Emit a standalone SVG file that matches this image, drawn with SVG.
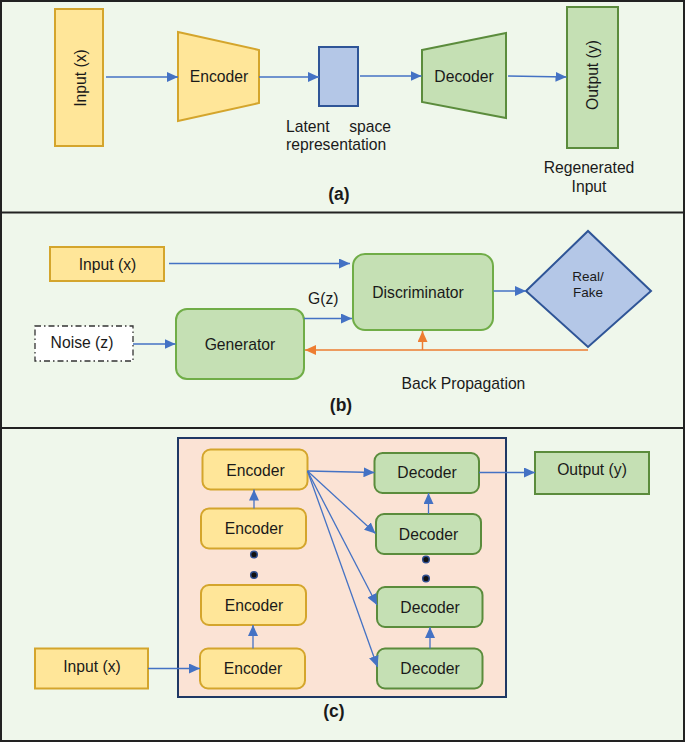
<svg xmlns="http://www.w3.org/2000/svg" width="685" height="742" viewBox="0 0 685 742">
<defs>
<marker id="ab" markerUnits="userSpaceOnUse" markerWidth="12" markerHeight="10" refX="11" refY="5" orient="auto"><path d="M0,0 L11,5 L0,10 z" fill="#4472c4"/></marker>
<marker id="ao" markerUnits="userSpaceOnUse" markerWidth="12" markerHeight="10" refX="11" refY="5" orient="auto"><path d="M0,0 L11,5 L0,10 z" fill="#ed7d31"/></marker>
<style>
text{font-family:"Liberation Sans",Arial,sans-serif;font-size:15.7px;fill:#1a1a1a}
.m{text-anchor:middle}
.b{font-weight:bold;font-size:17.5px}
.sm{font-size:13.5px}
.y{fill:#ffe699;stroke:#d4a52c;stroke-width:2}
.g{fill:#c5e0b4;stroke:#5b8c3c;stroke-width:2}
.g2{fill:#c5e0b4;stroke:#70ad47;stroke-width:2}
.bl{fill:#b4c7e7;stroke:#2f5597;stroke-width:2}
.c{fill:none;stroke:#4472c4;stroke-width:1.3;marker-end:url(#ab)}
.o{fill:none;stroke:#ed7d31;stroke-width:1.5}
.sep{stroke:#222;stroke-width:2}
.dot{fill:#111;stroke:#2f4f8f;stroke-width:1.5}
</style>
</defs>
<rect x="1" y="1" width="683" height="740" fill="#eff7eb" stroke="#222" stroke-width="2"/>
<line class="sep" x1="1" y1="212.5" x2="684" y2="212.5"/>
<line class="sep" x1="1" y1="428" x2="684" y2="428"/>

<!-- Panel (a) -->
<g id="a-input"><rect class="y" x="55" y="9" width="48" height="137"/><text class="m" transform="translate(86,78) rotate(-90)">Input (x)</text></g>
<g id="a-encoder"><polygon class="y" points="178,32 259,50 259,103 178,121"/><text class="m" x="219" y="81.5">Encoder</text></g>
<g id="a-latent"><rect class="bl" x="319" y="47" width="39" height="59"/><text x="286" y="131.5">Latent</text><text x="391" y="131.5" text-anchor="end">space</text><text x="286" y="150">representation</text></g>
<g id="a-decoder"><polygon class="g" points="422,50 506,33 506,118 422,102"/><text class="m" x="464" y="81.5">Decoder</text></g>
<g id="a-output"><rect class="g" x="567" y="7" width="51" height="141"/><text class="m" transform="translate(598,75) rotate(-90)">Output (y)</text><text class="m" x="589" y="172.5">Regenerated</text><text class="m" x="589" y="191.5">Input</text></g>
<text class="m b" x="339" y="200">(a)</text>

<!-- Panel (b) -->
<g id="b-input"><rect class="y" x="50" y="247" width="114" height="34"/><text class="m" x="107.5" y="270">Input (x)</text></g>
<g id="b-noise"><rect x="35" y="326" width="98" height="35" fill="#fff" stroke="#333" stroke-width="1.3" stroke-dasharray="6 3 1.5 3"/><text class="m" x="82" y="348">Noise (z)</text></g>
<g id="b-generator"><rect class="g2" x="176" y="309" width="128" height="70" rx="11"/><text class="m" x="240" y="349.5">Generator</text></g>
<g id="b-discriminator"><rect class="g2" x="353" y="254" width="140" height="76" rx="12"/><text class="m" x="418" y="298">Discriminator</text></g>
<g id="b-realfake"><polygon class="bl" points="526,291 588,231 651,291 588,347"/><text class="m sm" x="588" y="280.5">Real/</text><text class="m sm" x="588" y="297.3">Fake</text></g>
<text x="308" y="303.5">G(z)</text>
<text x="401.5" y="388.5">Back Propagation</text>
<text class="m b" x="341" y="411">(b)</text>

<!-- Panel (c) -->
<rect id="c-frame" x="178" y="438" width="328" height="259" fill="#fbe3d5" stroke="#1f3864" stroke-width="2"/>
<g id="c-input"><rect class="y" x="35" y="648.5" width="113" height="40"/><text class="m" x="92" y="672">Input (x)</text></g>
<g id="c-enc1"><rect class="y" x="202.5" y="449.5" width="105" height="40" rx="8"/><text class="m" x="255.5" y="476">Encoder</text></g>
<g id="c-enc2"><rect class="y" x="201" y="508.5" width="105" height="40" rx="8"/><text class="m" x="254" y="534">Encoder</text></g>
<g id="c-enc3"><rect class="y" x="201" y="585" width="105" height="40" rx="8"/><text class="m" x="254" y="610.7">Encoder</text></g>
<g id="c-enc4"><rect class="y" x="200" y="648.5" width="105" height="40" rx="8"/><text class="m" x="253" y="674">Encoder</text></g>
<g id="c-dec1"><rect class="g" x="374.5" y="453" width="104.5" height="40" rx="8"/><text class="m" x="427" y="478.4">Decoder</text></g>
<g id="c-dec2"><rect class="g" x="376" y="514" width="105" height="40" rx="8"/><text class="m" x="428.5" y="539.7">Decoder</text></g>
<g id="c-dec3"><rect class="g" x="377" y="587" width="105.5" height="40" rx="8"/><text class="m" x="430" y="613">Decoder</text></g>
<g id="c-dec4"><rect class="g" x="377" y="648.5" width="105.5" height="40" rx="8"/><text class="m" x="430" y="674">Decoder</text></g>
<g id="c-output"><rect class="g" x="535" y="452" width="114" height="42"/><text class="m" x="592" y="475">Output (y)</text></g>
<g id="c-dots">
<circle class="dot" cx="254" cy="554.5" r="3.3"/><circle class="dot" cx="254" cy="575" r="3.3"/>
<circle class="dot" cx="426" cy="559.5" r="3.3"/><circle class="dot" cx="426" cy="578.5" r="3.3"/>
</g>
<text class="m b" x="334" y="717">(c)</text>

<!-- Connectors -->
<g id="connectors">
<line class="c" x1="106" y1="77" x2="178" y2="77"/>
<line class="c" x1="259" y1="77" x2="319" y2="77"/>
<line class="c" x1="360" y1="76" x2="421.5" y2="76"/>
<line class="c" x1="508" y1="76" x2="566.5" y2="77"/>

<line class="c" x1="169" y1="263.5" x2="350" y2="263.5"/>
<line class="c" x1="133" y1="344" x2="175.5" y2="344"/>
<line class="c" x1="304" y1="318.5" x2="352" y2="318.5"/>
<line class="c" x1="493.5" y1="291" x2="526" y2="291"/>
<polyline class="o" points="588,350 305,350" marker-end="url(#ao)"/>
<line class="o" x1="422.5" y1="350" x2="422.5" y2="331" marker-end="url(#ao)"/>

<line class="c" x1="148" y1="668.5" x2="200" y2="668.5"/>
<line class="c" x1="253" y1="648.5" x2="253" y2="625"/>
<line class="c" x1="254" y1="508.5" x2="254" y2="489.5"/>
<line class="c" x1="307.5" y1="471" x2="374.5" y2="472.5"/>
<line class="c" x1="307.5" y1="471" x2="375.5" y2="533.5"/>
<line class="c" x1="307.5" y1="471" x2="377" y2="605"/>
<line class="c" x1="307.5" y1="471" x2="377.5" y2="667"/>
<line class="c" x1="430" y1="648.5" x2="430" y2="627"/>
<line class="c" x1="428.5" y1="514" x2="428.5" y2="493"/>
<line class="c" x1="479" y1="472.5" x2="535" y2="472.5"/>
</g>
</svg>
